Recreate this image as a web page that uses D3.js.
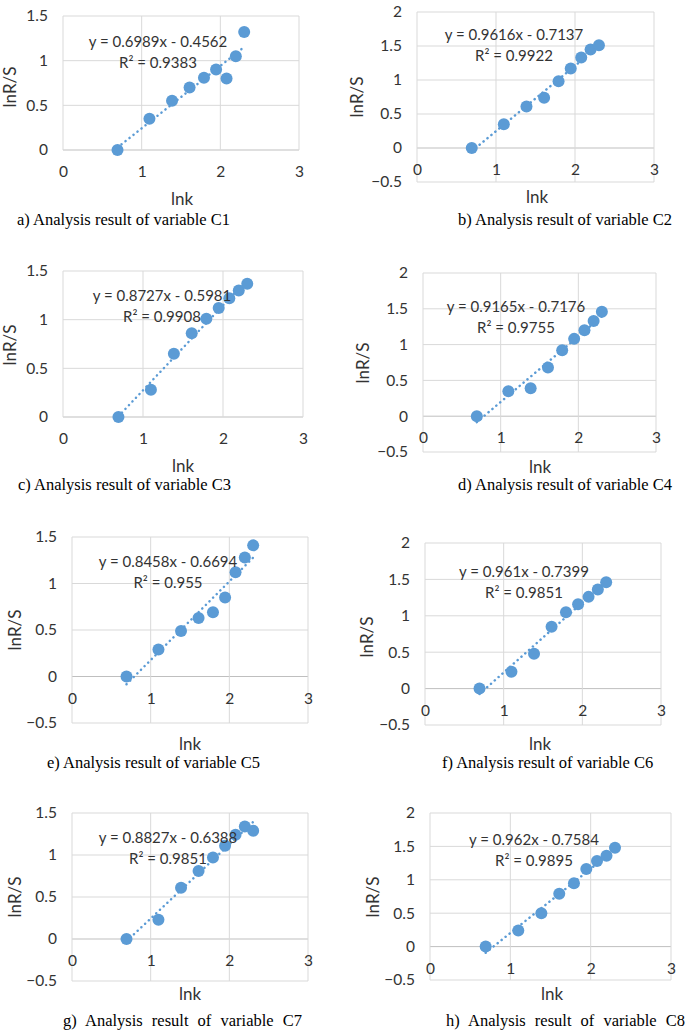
<!DOCTYPE html>
<html>
<head>
<meta charset="utf-8">
<script src="https://cdn.jsdelivr.net/npm/d3@7"></script>
<style>
  body { margin: 0; background: #fff; }
  svg { display: block; }
</style>
</head>
<body>
<div id="chart"></div>
<script>
// ln k values shared by every panel (k = 2..10)
const lnk = [0.693, 1.099, 1.386, 1.609, 1.792, 1.946, 2.079, 2.197, 2.303];

// lnR/S
const c1 = [0, 0.35, 0.55, 0.70, 0.81, 0.90, 0.80, 1.05, 1.32];
const c2 = [0, 0.35, 0.61, 0.74, 0.98, 1.17, 1.33, 1.45, 1.51];
const c3 = [0, 0.28, 0.65, 0.86, 1.01, 1.12, 1.22, 1.30, 1.37];
const c4 = [0, 0.35, 0.39, 0.68, 0.92, 1.08, 1.20, 1.33, 1.46];
const c5 = [0, 0.29, 0.49, 0.63, 0.69, 0.85, 1.12, 1.28, 1.41];
const c6 = [0, 0.23, 0.48, 0.85, 1.05, 1.16, 1.26, 1.36, 1.46];
const c7 = [0, 0.23, 0.61, 0.81, 0.97, 1.11, 1.24, 1.34, 1.29];
const c8 = [0, 0.24, 0.50, 0.79, 0.95, 1.16, 1.28, 1.36, 1.48];
const series = [c1, c2, c3, c4, c5, c6, c7, c8];

// linear trendlines as printed on the chart
const slopes = [0.6989, 0.9616, 0.8727, 0.9165, 0.8458, 0.961, 0.8827, 0.962];
const intercepts = [-0.4562, -0.7137, -0.5981, -0.7176, -0.6694, -0.7399, -0.6388, -0.7584];
const eqLabels = ["y = 0.6989x - 0.4562", "y = 0.9616x - 0.7137", "y = 0.8727x - 0.5981",
  "y = 0.9165x - 0.7176", "y = 0.8458x - 0.6694", "y = 0.961x - 0.7399",
  "y = 0.8827x - 0.6388", "y = 0.962x - 0.7584"];
const r2Labels = ["R² = 0.9383", "R² = 0.9922", "R² = 0.9908", "R² = 0.9755",
  "R² = 0.955", "R² = 0.9851", "R² = 0.9851", "R² = 0.9895"];

const captions = ["a) Analysis result of variable C1", "b) Analysis result of variable C2",
  "c) Analysis result of variable C3", "d) Analysis result of variable C4",
  "e) Analysis result of variable C5", "f) Analysis result of variable C6",
  "g) Analysis result of variable C7", "h) Analysis result of variable C8"];

const xTicks = [0, 1, 2, 3];
const yDomains = [[0, 1.5], [-0.5, 2], [0, 1.5], [-0.5, 2], [-0.5, 1.5], [-0.5, 2], [-0.5, 1.5], [-0.5, 2]];

// where each panel sits on the page
const layout = [
  { l: 63, r: 299, t: 16, b: 150, eq: [158, 47], xt: [182, 205], yt: [10, 87], cap: [17, 225] },
  { l: 417, r: 654, t: 12, b: 182, eq: [514, 40], xt: [537, 203], yt: [357, 97], cap: [458, 225] },
  { l: 63, r: 303, t: 271, b: 417, eq: [162, 301], xt: [183, 472], yt: [10, 345], cap: [18, 490] },
  { l: 423, r: 656, t: 273, b: 452, eq: [516, 312], xt: [540, 473], yt: [363, 363], cap: [458, 490] },
  { l: 72, r: 308, t: 537, b: 723, eq: [168, 567], xt: [190, 750], yt: [15, 630], cap: [47, 768] },
  { l: 425, r: 661, t: 543, b: 725, eq: [524, 577], xt: [540, 750], yt: [367, 637], cap: [442, 768] },
  { l: 72, r: 308, t: 813, b: 981, eq: [168, 843], xt: [190, 1000], yt: [15, 897], cap: [63, 1026], ws: 5 },
  { l: 430, r: 671, t: 813, b: 980, eq: [534, 845], xt: [552, 1000], yt: [373, 897], cap: [446, 1026], ws: 5 }
];

const blue = "#5B9BD5";
const ink = "#333";
const sans = "Lato, 'Open Sans', sans-serif";

const svg = d3.select("#chart").append("svg")
  .attr("width", 685)
  .attr("height", 1031);

series.forEach((vals, i) => {
  const p = layout[i];
  const g = svg.append("g");
  const [yMin, yMax] = yDomains[i];
  const yTicks = d3.range(yMin, yMax + 0.001, 0.5);

  const x = d3.scaleLinear().domain([0, 3]).range([p.l, p.r]);
  const y = d3.scaleLinear().domain([yMin, yMax]).range([p.b, p.t]);

  // gridlines
  g.selectAll(".hgrid").data(yTicks).enter().append("line")
    .attr("x1", p.l).attr("x2", p.r)
    .attr("y1", d => y(d)).attr("y2", d => y(d))
    .attr("stroke", d => d === 0 ? "#bfbfbf" : "#d9d9d9")
    .attr("stroke-width", 1);
  g.selectAll(".vgrid").data(xTicks).enter().append("line")
    .attr("x1", d => x(d)).attr("x2", d => x(d))
    .attr("y1", p.t).attr("y2", p.b)
    .attr("stroke", "#d9d9d9")
    .attr("stroke-width", 1);

  // tick labels
  const yAxis = g.append("g")
    .attr("transform", `translate(${p.l},0)`)
    .call(d3.axisLeft(y).tickValues(yTicks).tickSize(0).tickPadding(15).tickFormat(d3.format("")));
  const xAxis = g.append("g")
    .attr("transform", `translate(0,${y(0)})`)
    .call(d3.axisBottom(x).tickValues(xTicks).tickSize(0).tickPadding(16).tickFormat(d3.format("")));
  [yAxis, xAxis].forEach(a => {
    a.select(".domain").remove();
    a.selectAll("text")
      .attr("font-family", sans)
      .attr("font-size", 15.5)
      .attr("fill", ink);
  });

  // trendline
  const xr = d3.extent(lnk);
  g.append("path")
    .datum(xr)
    .attr("fill", "none")
    .attr("stroke", blue)
    .attr("stroke-width", 2.5)
    .attr("stroke-linecap", "round")
    .attr("stroke-dasharray", "0.1 5")
    .attr("d", d3.line()
      .x(d => x(d))
      .y(d => y(slopes[i] * d + intercepts[i])));

  // points
  g.selectAll("circle").data(vals).enter().append("circle")
    .attr("cx", (d, j) => x(lnk[j]))
    .attr("cy", d => y(d))
    .attr("r", 6)
    .attr("fill", blue);

  // equation labels
  g.append("text")
    .attr("x", p.eq[0]).attr("y", p.eq[1])
    .attr("text-anchor", "middle")
    .attr("font-family", sans).attr("font-size", 15).attr("fill", ink)
    .text(eqLabels[i]);
  g.append("text")
    .attr("x", p.eq[0]).attr("y", p.eq[1] + 21)
    .attr("text-anchor", "middle")
    .attr("font-family", sans).attr("font-size", 15).attr("fill", ink)
    .text(r2Labels[i]);

  // axis titles
  g.append("text")
    .attr("x", p.xt[0]).attr("y", p.xt[1])
    .attr("text-anchor", "middle")
    .attr("font-family", sans).attr("font-size", 17).attr("fill", ink)
    .text("lnk");
  g.append("text")
    .attr("transform", `translate(${p.yt[0] + 6},${p.yt[1]}) rotate(-90)`)
    .attr("text-anchor", "middle")
    .attr("font-family", sans).attr("font-size", 17).attr("fill", ink)
    .text("lnR/S");

  // caption
  g.append("text")
    .attr("x", p.cap[0]).attr("y", p.cap[1])
    .attr("font-family", "'Liberation Serif', 'Times New Roman', serif")
    .attr("font-size", 16.5)
    .attr("word-spacing", p.ws || 0)
    .attr("fill", "#000")
    .text(captions[i]);
});
</script>
</body>
</html>
